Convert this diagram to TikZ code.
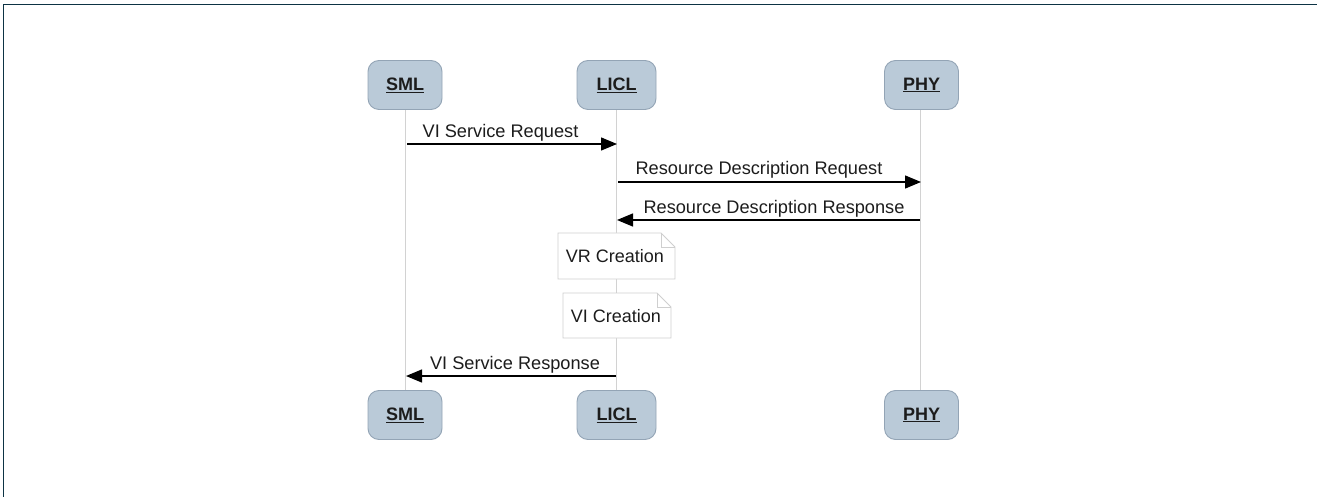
\documentclass[tikz,border=0pt]{standalone}
\usepackage{fontspec}
\setmainfont{Liberation Sans}
\usetikzlibrary{arrows.meta,calc}
\definecolor{framecol}{HTML}{0D3344}
\definecolor{partfill}{HTML}{BACAD8}
\definecolor{partdraw}{HTML}{93A4B5}
\definecolor{lifecol}{HTML}{D2D2D2}
\definecolor{notedraw}{HTML}{CFCFCF}
\definecolor{txt}{HTML}{1C1C1C}
\tikzset{
  part/.style={draw=partdraw, line width=0.9pt, fill=partfill, rounded corners=11pt,
    minimum width=74pt, minimum height=49pt, inner sep=0pt,
    font=\fontsize{18}{21}\selectfont\bfseries, text=txt},
  lifeline/.style={draw=lifecol, line width=1pt},
  msg/.style={draw=black, line width=1.4pt, -{Triangle[length=16pt,width=13pt]}},
  msglabel/.style={anchor=base, inner sep=0pt, font=\fontsize{18.2}{21}\selectfont, text=txt},
  notetext/.style={inner sep=0pt, font=\fontsize{18}{21}\selectfont, text=txt},
}
\newcommand{\notebox}[5]{% left, top, right, bottom, fold
  \fill[white] (#1,#2) -- (#3-#5,#2) -- (#3,#2+#5) -- (#3,#4) -- (#1,#4) -- cycle;
  \draw[notedraw, line width=0.9pt] (#1,#2) -- (#3-#5,#2) -- (#3,#2+#5) -- (#3,#4) -- (#1,#4) -- cycle;
  \draw[notedraw, line width=0.9pt] (#3-#5,#2) -- (#3-#5,#2+#5) -- (#3,#2+#5);
}
\begin{document}
\begin{tikzpicture}[x=1pt,y=-1pt]
  \useasboundingbox (0,0) rectangle (1317,497);
  % frame edges
  \draw[framecol, line width=1.3pt] (3.5,497) -- (3.5,4.5) -- (1317,4.5);

  % lifeline anchors
  \coordinate (smlT) at (405,110);
  \coordinate (smlB) at (405,390);
  \coordinate (liclT) at (616,110);
  \coordinate (liclB) at (616,390);
  \coordinate (phyT) at (920,110);
  \coordinate (phyB) at (920,390);
  \draw[lifeline] (smlT) -- (smlB);
  \draw[lifeline] (liclT) -- (liclB);
  \draw[lifeline] (phyT) -- (phyB);

  % participants
  \node[part] (sml) at (405,85) {\underline{SML}};
  \node[part, minimum width=79pt] (licl) at (616.5,85) {\underline{LICL}};
  \node[part] (phy) at (921.5,85) {\underline{PHY}};
  \node[part] (sml2) at (405,415) {\underline{SML}};
  \node[part, minimum width=79pt] (licl2) at (616.5,415) {\underline{LICL}};
  \node[part] (phy2) at (921.5,415) {\underline{PHY}};

  % messages
  \coordinate (m1a) at (407,144);  \coordinate (m1b) at (617,144);
  \coordinate (m2a) at (618,182);  \coordinate (m2b) at (921,182);
  \coordinate (m3a) at (920,220);  \coordinate (m3b) at (617,220);
  \coordinate (m4a) at (616,376);  \coordinate (m4b) at (406,376);
  \draw[msg] (m1a) -- (m1b);
  \draw[msg] (m2a) -- (m2b);
  \draw[msg] (m3a) -- (m3b);
  \draw[msg] (m4a) -- (m4b);
  \node[msglabel] (l1) at (500.5,138) {VI Service Request};
  \node[msglabel] (l2) at (759,175) {Resource Description Request};
  \node[msglabel] (l3) at (774,213.5) {Resource Description Response};
  \node[msglabel] (l4) at (515,369) {VI Service Response};

  % notes on LICL
  \notebox{558}{233}{675}{279}{14}
  \node[notetext] (vr) at (615,256) {VR Creation};
  \notebox{563}{293}{671}{338}{14}
  \node[notetext] (vi) at (616,316) {VI Creation};
\end{tikzpicture}
\end{document}
